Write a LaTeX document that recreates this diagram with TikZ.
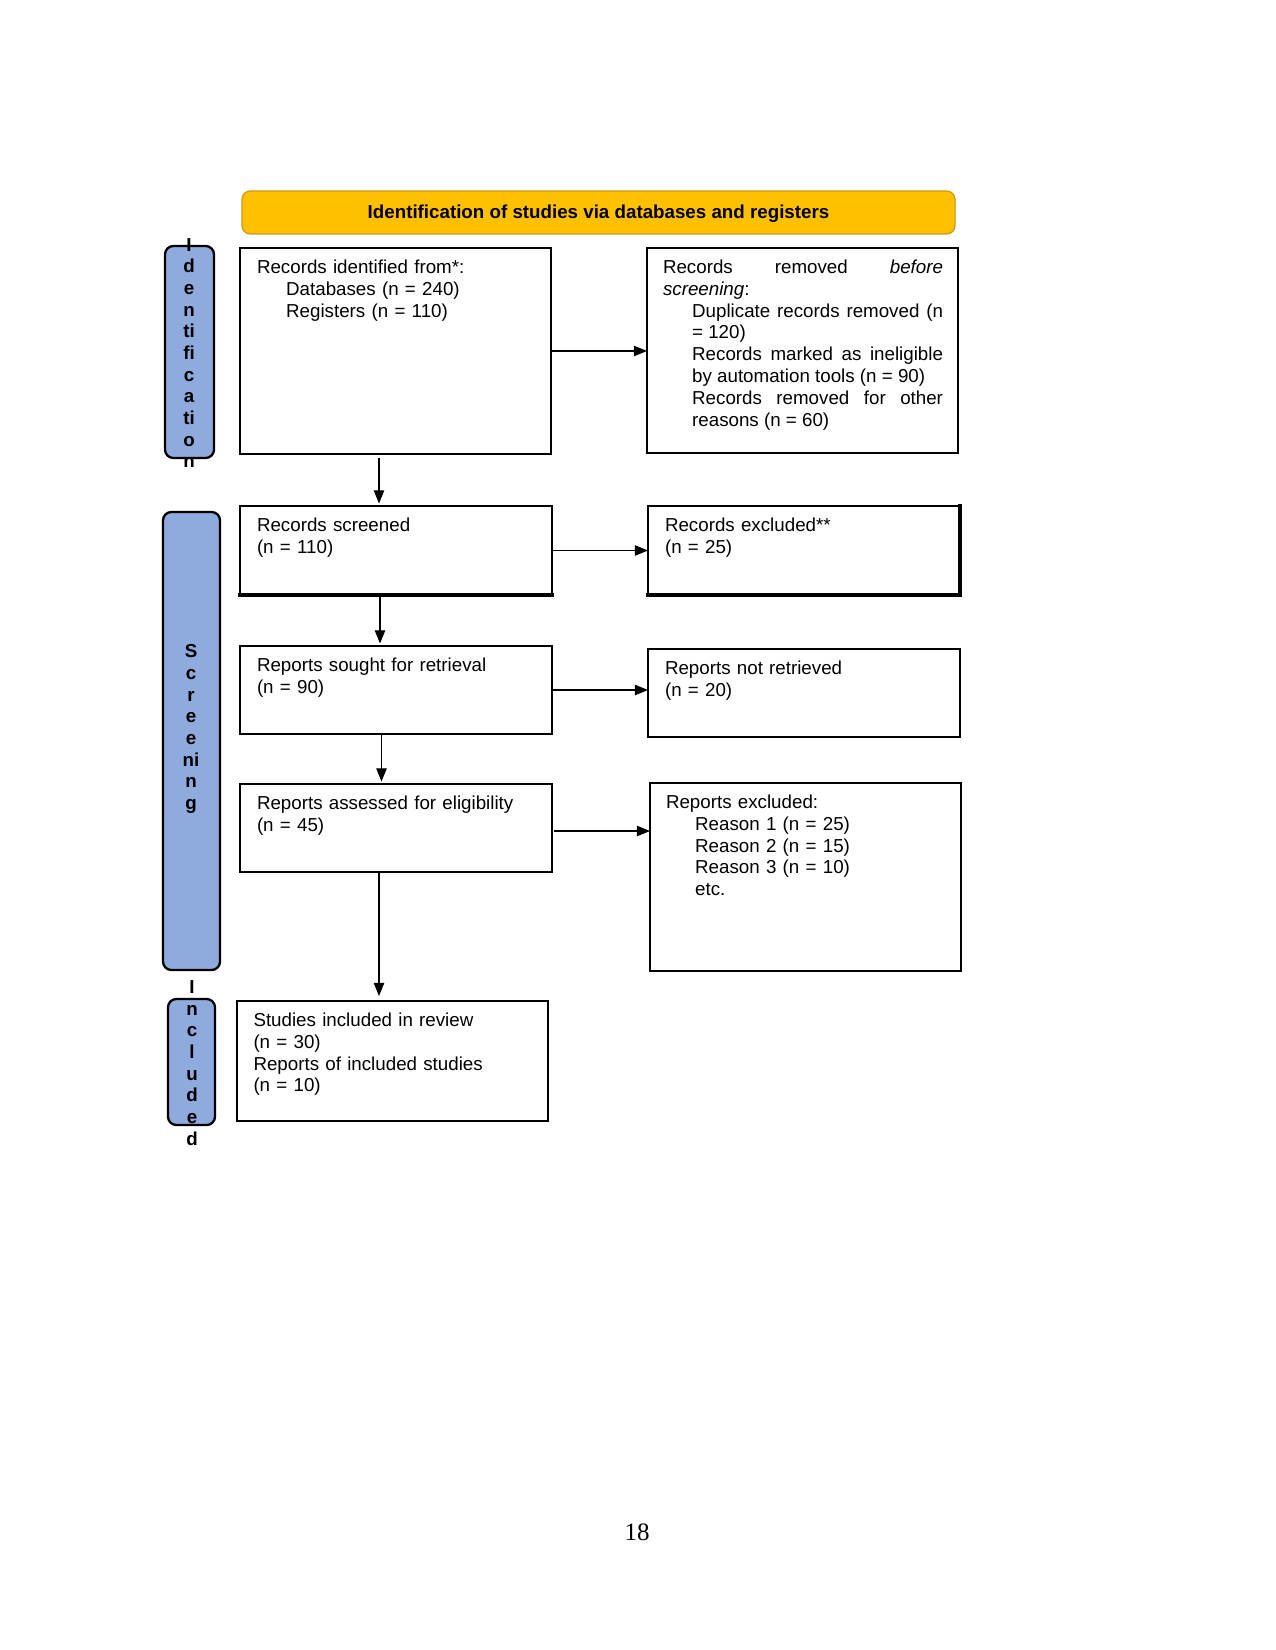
\documentclass[tikz,border=0pt]{standalone}
\usepackage{fontspec}
\setmainfont{Liberation Sans}[Ligatures=NoCommon]
\newfontfamily\pagefont{Liberation Serif}
\usetikzlibrary{arrows.meta,calc}
\definecolor{bannerfill}{RGB}{255,192,0}
\definecolor{bannerdraw}{RGB}{205,155,20}
\definecolor{sidefill}{RGB}{143,170,220}
\tikzset{
  box/.style={draw=black, line width=1pt, inner sep=0pt, outer sep=0pt},
  sidebox/.style={draw=black, line width=1.1pt, fill=sidefill, rounded corners=4pt, inner sep=0pt, outer sep=0pt},
  banner/.style={draw=bannerdraw, line width=0.6pt, fill=bannerfill, rounded corners=4pt, inner sep=0pt, outer sep=0pt, font=\bfseries\fontsize{9}{10.5}\selectfont},
  txt/.style={inner sep=0pt, outer sep=0pt, anchor=north west, align=left, font=\fontsize{9}{10.5}\selectfont},
  jtxt/.style={txt, align=justify},
  sidetxt/.style={inner sep=0pt, outer sep=0pt, align=center, font=\bfseries\fontsize{9}{10.4}\selectfont},
  arr/.style={line width=0.5pt, -{Triangle[length=6.3pt,width=5pt]}},
  thickedge/.style={line width=1.6pt, line cap=rect}
}
\newcommand{\rbox}[6]{\node[#2, minimum width={(#5-#3)*0.48pt}, minimum height={(#6-#4)*0.48pt}] (#1) at ({(#3+#5)/2},{(#4+#6)/2}) {};}
\begin{document}
\begin{tikzpicture}[x=0.48pt,y=-0.48pt]
\useasboundingbox (0,0) rectangle (1275,1650);
% banner
\rbox{ban}{banner}{242}{191}{955}{234}
\node[banner, draw=none, fill=none] (bant) at ([shift={(0,1.5)}]ban.center) {Identification of studies via databases and registers};
% side labels
\rbox{s1}{sidebox}{165}{246}{214}{458}
\rbox{s2}{sidebox}{163}{512}{220}{970}
\rbox{s3}{sidebox}{168}{999}{215}{1125}
\node[sidetxt] (s1t) at (189,353) {I\\d\\e\\n\\ti\\fi\\c\\a\\ti\\o\\n};
\node[sidetxt] (s2t) at (191,729) {S\\c\\r\\e\\e\\ni\\n\\g};
\node[sidetxt] (s3t) at (192,1063) {I\\n\\c\\l\\u\\d\\e\\d};
% boxes
\rbox{b1}{box}{240}{248}{551}{454}
\rbox{b2}{box}{647}{248}{958}{453}
\rbox{b3}{box}{240}{506}{552}{595}
\rbox{b4}{box}{648}{506}{960}{595}
\rbox{b5}{box}{240}{646}{552}{734}
\rbox{b6}{box}{648}{649}{960}{737}
\rbox{b7}{box}{240}{784}{552}{872}
\rbox{b8}{box}{650}{783}{961}{971}
\rbox{b9}{box}{237}{1001}{548}{1121}
\draw[thickedge] (b3.south west) -- (b3.south east);
\draw[thickedge] (b4.south west) -- (b4.south east) -- (b4.north east);
% texts
\node[txt, text width={277*0.48pt}] (b1t) at ([shift={(17,10)}]b1.north west) {\strut Records identified from*:\\\hspace*{14pt}Databases (n = 240)\\\hspace*{14pt}Registers (n = 110)};
\node[jtxt, text width={280*0.48pt}] (b2t) at ([shift={(16,10)}]b2.north west) {\strut Records removed \textit{before} \linebreak \textit{screening}:\par
{\leftskip=14pt Duplicate records removed (n \linebreak = 120)\par
Records marked as ineligible \linebreak by automation tools (n = 90)\par
Records removed for other \linebreak reasons (n = 60)\par}};
\node[txt, text width={280*0.48pt}] (b3t) at ([shift={(17,10)}]b3.north west) {\strut Records screened\\(n = 110)};
\node[txt, text width={280*0.48pt}] (b4t) at ([shift={(17,10)}]b4.north west) {\strut Records excluded**\\(n = 25)};
\node[txt, text width={280*0.48pt}] (b5t) at ([shift={(17,10)}]b5.north west) {\strut Reports sought for retrieval\\(n = 90)};
\node[txt, text width={280*0.48pt}] (b6t) at ([shift={(17,10)}]b6.north west) {\strut Reports not retrieved\\(n = 20)};
\node[txt, text width={280*0.48pt}] (b7t) at ([shift={(17,10)}]b7.north west) {\strut Reports assessed for eligibility\\(n = 45)};
\node[txt, text width={280*0.48pt}] (b8t) at ([shift={(16,10)}]b8.north west) {\strut Reports excluded:\\\hspace*{14pt}Reason 1 (n = 25)\\\hspace*{14pt}Reason 2 (n = 15)\\\hspace*{14pt}Reason 3 (n = 10)\\\hspace*{14pt}etc.};
\node[txt, text width={280*0.48pt}] (b9t) at ([shift={(16.5,10)}]b9.north west) {\strut Studies included in review\\(n = 30)\\Reports of included studies\\(n = 10)};
% horizontal arrows
\draw[arr] (b1.east) -- (b1.east -| b2.west);
\draw[arr] (b3.east) -- (b3.east -| b4.west);
\draw[arr] (b5.east) -- (b5.east -| b6.west);
\coordinate (c78) at ([shift={(2,3)}]b7.east);
\draw[arr] (c78) -- (c78 -| b8.west);
% vertical arrows
\coordinate (c13) at ([shift={(-16.5,4)}]b1.south);
\draw[arr, shorten >=1.2pt] (c13) -- (c13 |- b3.north);
\coordinate (c35) at ([shift={(-16,1)}]b3.south);
\draw[arr, shorten >=1.2pt] (c35) -- (c35 |- b5.north);
\coordinate (c57) at ([shift={(-14.5,0)}]b5.south);
\draw[arr, shorten >=1.2pt] (c57) -- (c57 |- b7.north);
\coordinate (c79) at ([shift={(-17,0)}]b7.south);
\draw[arr, shorten >=2.4pt] (c79) -- (c79 |- b9.north);
% page number
\node[font=\pagefont\fontsize{12}{14}\selectfont] (pg) at (637,1532) {18};
\end{tikzpicture}
\end{document}
